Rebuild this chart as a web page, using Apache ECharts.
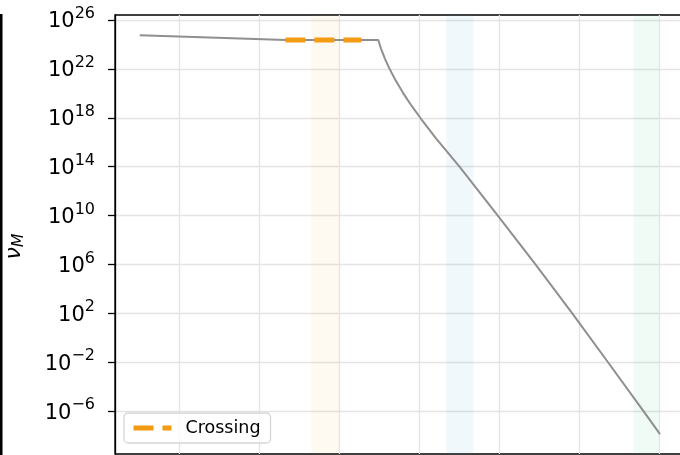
<!DOCTYPE html>
<html>
<head>
<meta charset="utf-8">
<script src="https://cdn.jsdelivr.net/npm/echarts@6/dist/echarts.min.js"></script>
<style>html,body{margin:0;padding:0;background:#fff}#c{width:680px;height:455px}</style>
</head>
<body>
<div id="c"></div>
<script>
// main curve (x position, nu_M)
const curveX = [0.51, 2.34, 3.491, 3.525, 3.575, 3.629, 3.70, 3.80, 3.9125, 4.025, 4.2125, 4.506, 4.985, 5.456, 5.916, 6.3625, 6.806, 7.0125];
const curveY = [5.6e24, 2.3e24, 2.3e24, 4.6e23, 6.7e22, 1.1e22, 1.4e21, 1.1e20, 8.5e18, 8.3e17, 2.1e16, 1.0e14, 1.0e10, 1.0e6, 1.0e2, 1.0e-2, 1.0e-6, 1.3e-8];
// crossing segment
const crossX = [2.33, 3.28];
const crossY = [2.3e24, 2.3e24];
// shaded bands [from, to]
const bandOrange = [2.655, 3.0];
const bandBlue = [4.34, 4.68];
const bandGreen = [6.68, 7.0];
// ticks
const yTicks = [1e-6, 1e-2, 1e2, 1e6, 1e10, 1e14, 1e18, 1e22, 1e26];
const xGrid = [1, 2, 3, 4, 5, 6, 7];
const legendLabel = 'Crossing';

const FONT = 'DejaVu Sans';
const ORANGE = '#f39c12';
const chart = echarts.init(document.getElementById('c'), null, {renderer: 'canvas'});
const zip = (a, b) => a.map((v, i) => [v, b[i]]);

chart.setOption({
  animation: false,
  backgroundColor: '#fff',
  grid: {left: 115, top: 15, width: 584, height: 439, containLabel: false, outerBoundsMode: 'none',
         show: true, borderColor: '#000', borderWidth: 1.3, backgroundColor: 'transparent'},
  xAxis: {
    type: 'value', min: 0.2, max: 7.5,
    axisLine: {show: false},
    axisTick: {show: false, customValues: xGrid},
    axisLabel: {show: false, customValues: xGrid},
    splitLine: {show: true, lineStyle: {color: '#e4e4e4', width: 1.3}}
  },
  yAxis: {
    type: 'log', logBase: 10, min: 3.1e-10, max: 2.57e26,
    name: '{i|ν}{s|M}', nameLocation: 'middle', nameRotate: 90, nameGap: 88,
    nameTextStyle: {padding: [0, 24, 0, 0], rich: {
      i: {fontFamily: FONT, fontStyle: 'italic', fontSize: 22, color: '#000'},
      s: {fontFamily: FONT, fontStyle: 'italic', fontSize: 16, color: '#000', padding: [9, 0, 0, 0]}
    }},
    axisLine: {show: true, lineStyle: {color: '#000', width: 1.3}},
    axisTick: {show: true, inside: false, length: 7, lineStyle: {color: '#000', width: 1.3}, customValues: yTicks},
    axisLabel: {
      customValues: yTicks, margin: 20,
      formatter: function (v) {
        const e = Math.round(Math.log10(v));
        return '{b|10}{s|' + (e < 0 ? '\u2212' + (-e) : e) + '}';
      },
      rich: {
        b: {fontFamily: FONT, fontSize: 21, color: '#000', padding: [4, 0, 0, 0]},
        s: {fontFamily: FONT, fontSize: 16, color: '#000', padding: [0, 0, 12, 0]}
      }
    },
    splitLine: {show: true, lineStyle: {color: '#e4e4e4', width: 1.3}}
  },
  legend: {
    data: [legendLabel], left: 124, top: 413,
    padding: [6, 10, 6, 7], itemWidth: 38, itemHeight: 14,
    borderColor: '#d6d6d6', borderWidth: 1.3, borderRadius: 4,
    backgroundColor: 'rgba(255,255,255,0.8)',
    itemStyle: {opacity: 0},
    lineStyle: {color: ORANGE, width: 5, type: [20, 9], cap: 'butt'},
    textStyle: {fontFamily: FONT, fontSize: 17.5, color: '#000', padding: [0, 0, 0, 9]}
  },
  series: [
    {
      type: 'line', name: 'nu', data: zip(curveX, curveY), symbol: 'none', smooth: false,
      lineStyle: {color: '#8f8f8f', width: 2}, z: 2, silent: true,
      markArea: {silent: true, data: [
        [{xAxis: bandOrange[0], itemStyle: {color: 'rgba(243,156,18,0.06)'}}, {xAxis: bandOrange[1]}],
        [{xAxis: bandBlue[0], itemStyle: {color: 'rgba(52,152,219,0.07)'}}, {xAxis: bandBlue[1]}],
        [{xAxis: bandGreen[0], itemStyle: {color: 'rgba(46,204,113,0.07)'}}, {xAxis: bandGreen[1]}]
      ]}
    },
    {
      type: 'line', name: legendLabel, data: zip(crossX, crossY), symbol: 'none',
      itemStyle: {color: ORANGE},
      lineStyle: {color: ORANGE, width: 5, type: [20, 9], cap: 'butt'}, z: 3, silent: true
    }
  ],
  graphic: [{type: 'rect', shape: {x: 0, y: 14, width: 2.5, height: 441}, style: {fill: '#000'}, silent: true}]
});
</script>
</body>
</html>
